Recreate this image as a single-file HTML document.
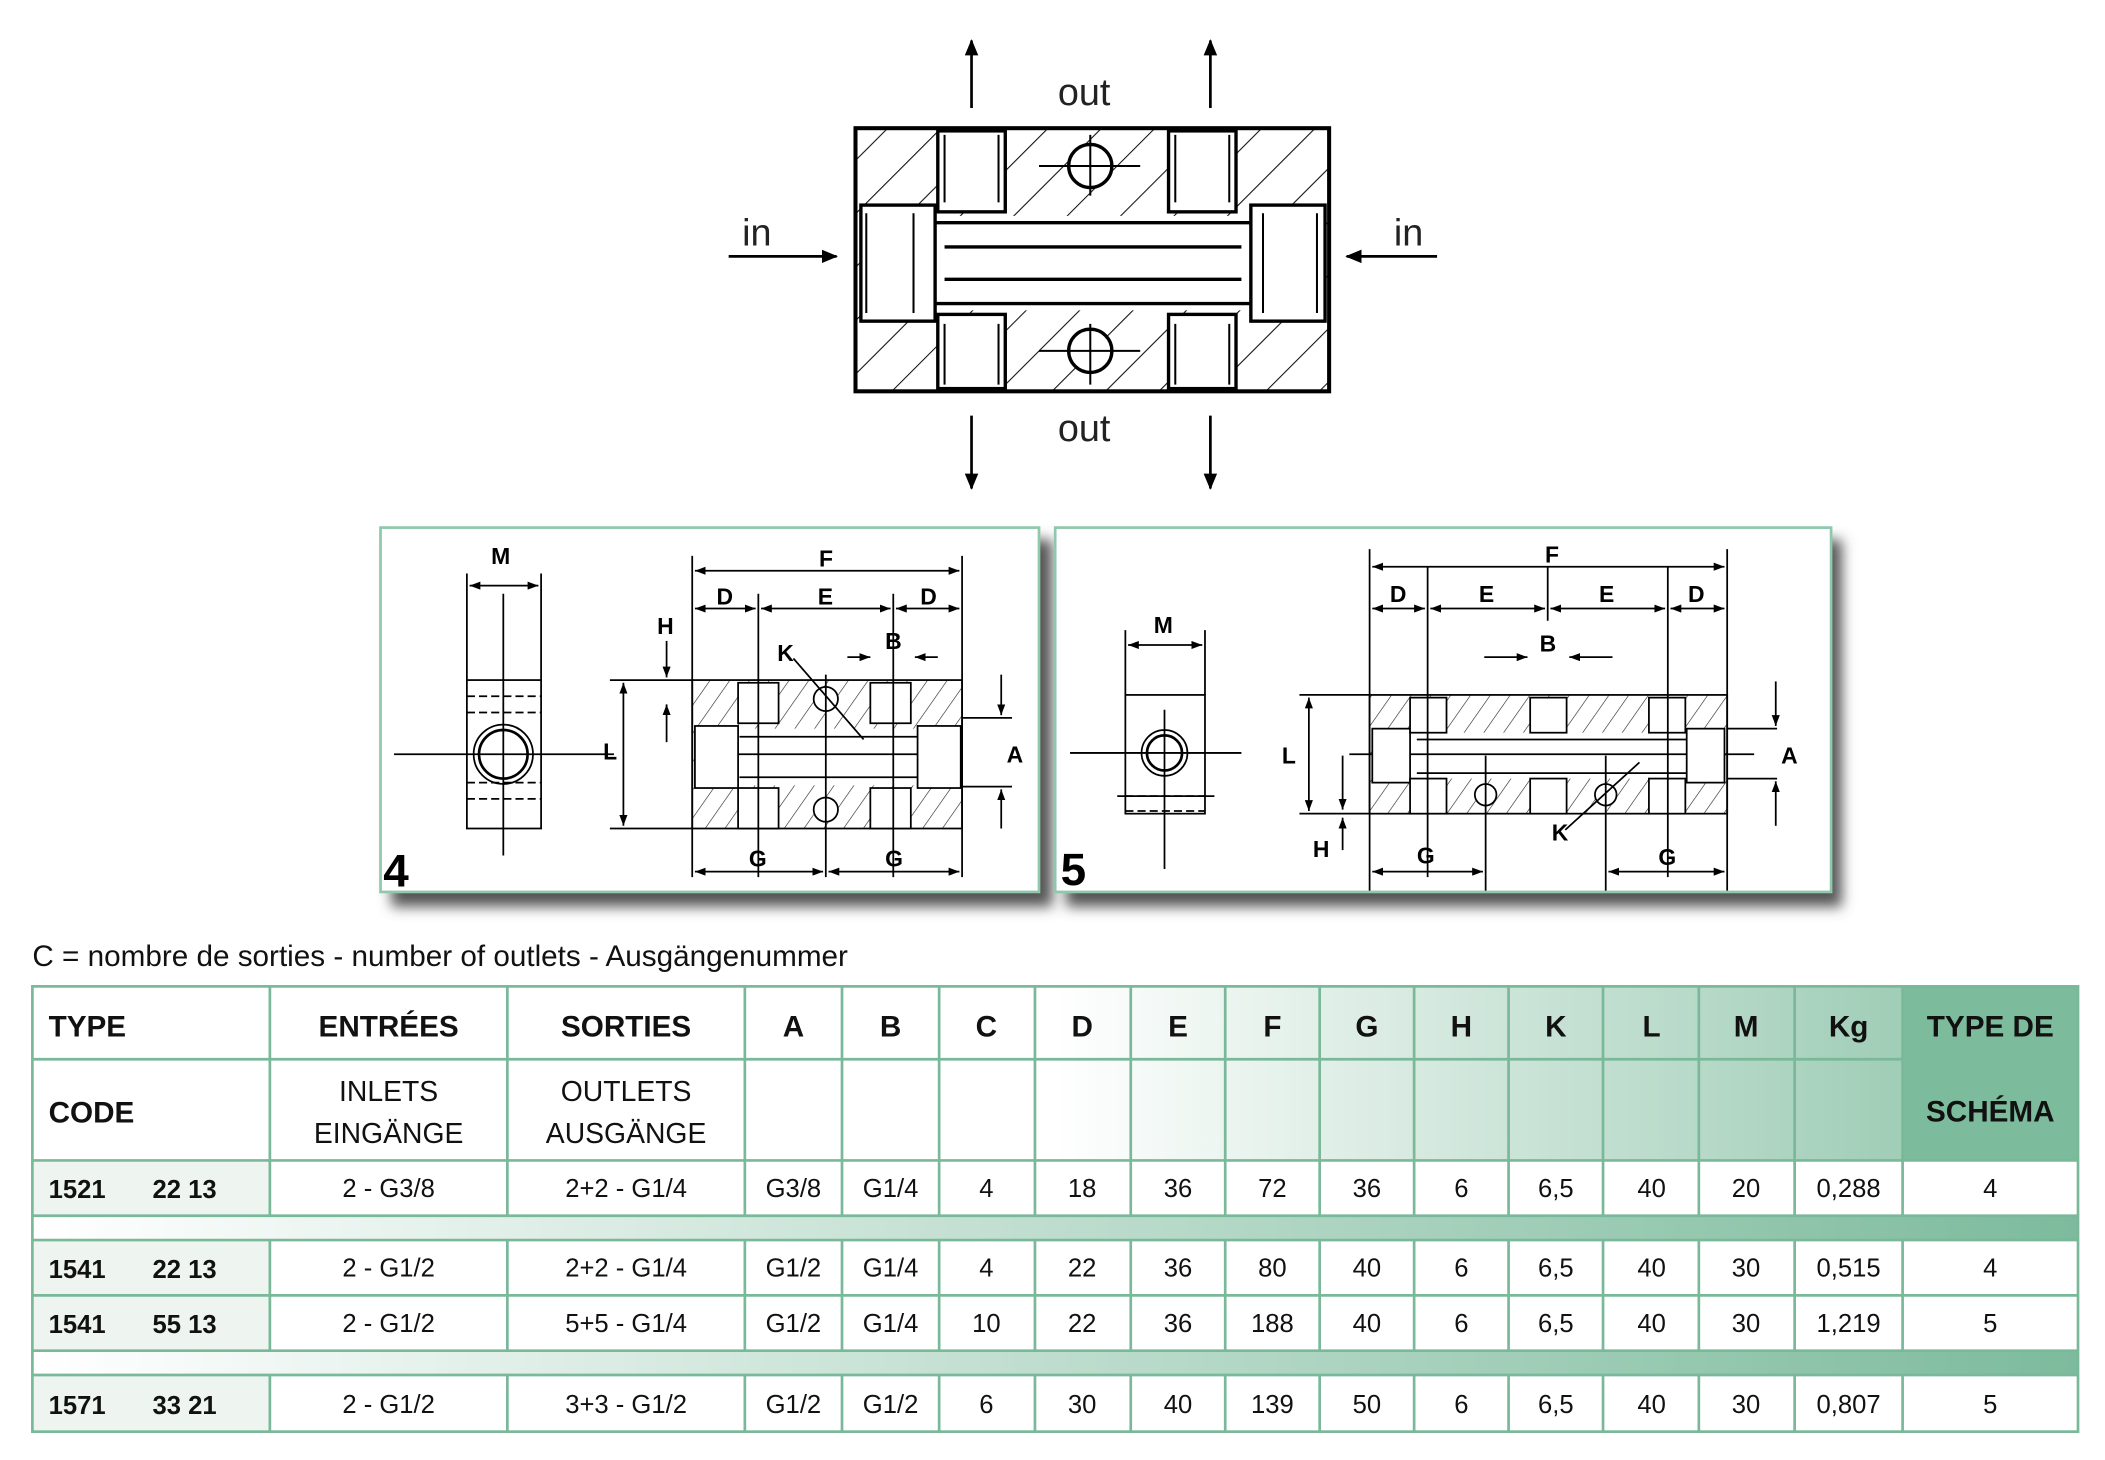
<!DOCTYPE html>
<html><head><meta charset="utf-8"><style>
html,body{margin:0;padding:0;background:#fff}
svg{display:block}
text{font-family:"Liberation Sans",sans-serif}
.b{font-family:"Liberation Sans",sans-serif;font-weight:bold}
</style></head><body>
<svg width="2105" height="1460" viewBox="0 0 1560 1082" xmlns="http://www.w3.org/2000/svg">
<defs>
<pattern id="h" width="28" height="28" patternUnits="userSpaceOnUse" patternTransform="rotate(45)"><line x1="0" y1="0" x2="0" y2="28" stroke="#111" stroke-width="1.6"/></pattern>
<pattern id="hs" width="12" height="12" patternUnits="userSpaceOnUse" patternTransform="rotate(35)"><line x1="0" y1="0" x2="0" y2="12" stroke="#222" stroke-width="0.9"/></pattern>
<linearGradient id="hg" x1="0" x2="1"><stop offset="0" stop-color="#fff"/><stop offset="0.5" stop-color="#fff"/><stop offset="1" stop-color="#8cc3a8"/></linearGradient>
<linearGradient id="bg" x1="0" x2="1"><stop offset="0" stop-color="#fff"/><stop offset="1" stop-color="#7dbb9d"/></linearGradient>
<filter id="sh" x="-5%" y="-5%" width="115%" height="125%"><feGaussianBlur stdDeviation="5"/></filter>
<marker id="ar" markerWidth="12" markerHeight="10" refX="11" refY="5" orient="auto" markerUnits="userSpaceOnUse"><path d="M0,0L12,5L0,10z" fill="#000"/></marker>
<marker id="as" markerWidth="8" markerHeight="6" refX="8" refY="3" orient="auto-start-reverse" markerUnits="userSpaceOnUse"><path d="M0,0L8,3L0,6z" fill="#000"/></marker>
</defs>

<!-- TOP DRAWING -->
<g stroke="#000" fill="none">
<rect x="634" y="95" width="351" height="195" fill="url(#h)" stroke-width="3"/>
<rect x="640" y="160" width="340" height="70" fill="#fff" stroke="none"/>
<path d="M690,165H930M690,225H930M700,183H920M700,207H920" stroke-width="2.5"/>
<rect x="638" y="152" width="55" height="86" fill="#fff" stroke-width="2.5"/>
<rect x="927" y="152" width="55" height="86" fill="#fff" stroke-width="2.5"/>
<rect x="695" y="97" width="50" height="60" fill="#fff" stroke-width="2.5"/>
<rect x="866" y="97" width="50" height="60" fill="#fff" stroke-width="2.5"/>
<rect x="695" y="233" width="50" height="55" fill="#fff" stroke-width="2.5"/>
<rect x="866" y="233" width="50" height="55" fill="#fff" stroke-width="2.5"/>
<path d="M700,100V150M740,100V150M871,100V150M911,100V150M700,240V285M740,240V285M871,240V285M911,240V285" stroke-width="1.5"/>
<path d="M642,158V232M677,158V232M936,158V232M976,158V232" stroke-width="1.5"/>
<circle cx="808" cy="123" r="16" fill="#fff" stroke-width="2.5"/>
<circle cx="808" cy="260" r="16" fill="#fff" stroke-width="2.5"/>
<path d="M770,123H845M770,260H845M808,100V145M808,240V285" stroke-width="1.5"/>
<path d="M720,80V30" stroke-width="2" marker-end="url(#ar)"/>
<path d="M897,80V30" stroke-width="2" marker-end="url(#ar)"/>
<path d="M720,308V362" stroke-width="2" marker-end="url(#ar)"/>
<path d="M897,308V362" stroke-width="2" marker-end="url(#ar)"/>
<path d="M540,190H620" stroke-width="2" marker-end="url(#ar)"/>
<path d="M1065,190H998" stroke-width="2" marker-end="url(#ar)"/>
</g>
<g font-size="28" fill="#222"><text x="784" y="78">out</text><text x="784" y="327">out</text><text x="550" y="182">in</text><text x="1033" y="182">in</text></g>

<!-- PANELS -->
<rect x="290" y="400" width="490" height="272" fill="#555" filter="url(#sh)"/>
<rect x="790" y="400" width="575" height="272" fill="#555" filter="url(#sh)"/>
<rect x="282" y="391" width="488" height="270" fill="#fff" stroke="#8fc8ac" stroke-width="2"/>
<rect x="782" y="391" width="575" height="270" fill="#fff" stroke="#8fc8ac" stroke-width="2"/>

<!-- panel 4 -->
<g stroke="#000" fill="none" stroke-width="1.3">
<rect x="346" y="504" width="55" height="110"/>
<path d="M346,516H401M346,528H401M346,580H401M346,592H401" stroke-dasharray="6,3"/>
<circle cx="373" cy="559" r="22"/><circle cx="373" cy="559" r="18" stroke-width="2"/>
<path d="M292,559H455M373,440V634M346,425V504M401,425V504"/>
<path d="M348,434H399" marker-start="url(#as)" marker-end="url(#as)"/>
<rect x="513" y="504" width="200" height="110" fill="url(#hs)"/>
<rect x="515" y="540" width="196" height="42" fill="#fff" stroke="none"/>
<path d="M548,546H680M548,576H680M520,559H690"/>
<rect x="515" y="538" width="32" height="46" fill="#fff"/><rect x="680" y="538" width="32" height="46" fill="#fff"/>
<rect x="547" y="506" width="30" height="30" fill="#fff"/><rect x="645" y="506" width="30" height="30" fill="#fff"/>
<rect x="547" y="584" width="30" height="30" fill="#fff"/><rect x="645" y="584" width="30" height="30" fill="#fff"/>
<circle cx="612" cy="518" r="9" fill="#fff"/><circle cx="612" cy="600" r="9" fill="#fff"/>
<path d="M452,504H513M452,614H513M513,412V650M713,412V650M562,440V650M662,440V650M612,500V650"/>
<path d="M515,423H711" marker-start="url(#as)" marker-end="url(#as)"/>
<path d="M515,451H560" marker-start="url(#as)" marker-end="url(#as)"/>
<path d="M564,451H660" marker-start="url(#as)" marker-end="url(#as)"/>
<path d="M664,451H711" marker-start="url(#as)" marker-end="url(#as)"/>
<path d="M462,506V612" marker-start="url(#as)" marker-end="url(#as)"/>
<path d="M494,475V502" marker-end="url(#as)"/><path d="M494,550V522" marker-end="url(#as)"/>
<path d="M628,487H645" marker-end="url(#as)"/><path d="M695,487H678" marker-end="url(#as)"/>
<path d="M713,532H750M713,583H750"/>
<path d="M742,500V530" marker-end="url(#as)"/><path d="M742,614V585" marker-end="url(#as)"/>
<path d="M588,488L640,548"/>
<path d="M515,646H610" marker-start="url(#as)" marker-end="url(#as)"/>
<path d="M614,646H711" marker-start="url(#as)" marker-end="url(#as)"/>
</g>
<g font-size="17" class="b"><text x="364" y="418">M</text><text x="607" y="420">F</text><text x="531" y="448">D</text><text x="606" y="448">E</text><text x="682" y="448">D</text><text x="487" y="470">H</text><text x="576" y="490">K</text><text x="656" y="481">B</text><text x="447" y="563">L</text><text x="746" y="565">A</text><text x="555" y="642">G</text><text x="656" y="642">G</text></g>
<text x="284" y="657" font-size="34" class="b">4</text>

<!-- panel 5 -->
<g stroke="#000" fill="none" stroke-width="1.3">
<rect x="834" y="515" width="59" height="88"/>
<path d="M834,590H893M834,601H893" stroke-dasharray="6,3"/>
<circle cx="863" cy="558" r="17"/><circle cx="863" cy="558" r="13" stroke-width="2"/>
<path d="M793,558H920M863,526V644M834,467V515M893,467V515M828,590H900"/>
<path d="M836,478H891" marker-start="url(#as)" marker-end="url(#as)"/>
<rect x="1015" y="515" width="265" height="88" fill="url(#hs)"/>
<rect x="1017" y="543" width="261" height="34" fill="#fff" stroke="none"/>
<path d="M1050,548H1250M1050,573H1250M1000,559H1300"/>
<rect x="1017" y="540" width="28" height="40" fill="#fff"/><rect x="1250" y="540" width="28" height="40" fill="#fff"/>
<rect x="1045" y="517" width="27" height="26" fill="#fff"/><rect x="1134" y="517" width="27" height="26" fill="#fff"/><rect x="1222" y="517" width="27" height="26" fill="#fff"/>
<rect x="1045" y="577" width="27" height="26" fill="#fff"/><rect x="1134" y="577" width="27" height="26" fill="#fff"/><rect x="1222" y="577" width="27" height="26" fill="#fff"/>
<circle cx="1101" cy="589" r="8" fill="#fff"/><circle cx="1190" cy="589" r="8" fill="#fff"/>
<path d="M1015,407V660M1280,407V660M1058,420V650M1147,420V460M1236,420V650M1101,560V660M1190,560V660M963,515H1015M963,603H1015M1280,540H1317M1280,577H1317"/>
<path d="M1017,420H1278" marker-start="url(#as)" marker-end="url(#as)"/>
<path d="M1017,451H1056" marker-start="url(#as)" marker-end="url(#as)"/>
<path d="M1060,451H1145" marker-start="url(#as)" marker-end="url(#as)"/>
<path d="M1149,451H1234" marker-start="url(#as)" marker-end="url(#as)"/>
<path d="M1238,451H1278" marker-start="url(#as)" marker-end="url(#as)"/>
<path d="M970,517V601" marker-start="url(#as)" marker-end="url(#as)"/>
<path d="M995,560V600" marker-end="url(#as)"/><path d="M995,630V606" marker-end="url(#as)"/>
<path d="M1100,487H1132" marker-end="url(#as)"/><path d="M1195,487H1163" marker-end="url(#as)"/>
<path d="M1316,505V538" marker-end="url(#as)"/><path d="M1316,612V579" marker-end="url(#as)"/>
<path d="M1160,615L1215,565"/>
<path d="M1017,646H1099" marker-start="url(#as)" marker-end="url(#as)"/>
<path d="M1192,646H1278" marker-start="url(#as)" marker-end="url(#as)"/>
</g>
<g font-size="17" class="b"><text x="855" y="469">M</text><text x="1145" y="417">F</text><text x="1030" y="446">D</text><text x="1096" y="446">E</text><text x="1185" y="446">E</text><text x="1251" y="446">D</text><text x="1141" y="483">B</text><text x="950" y="566">L</text><text x="1320" y="566">A</text><text x="973" y="635">H</text><text x="1150" y="623">K</text><text x="1050" y="640">G</text><text x="1229" y="641">G</text></g>
<text x="786" y="656" font-size="34" class="b">5</text>

<text x="24" y="716" font-size="22" fill="#111">C = nombre de sorties - number of outlets - Ausgängenummer</text>

<!-- TABLE -->
<rect x="24" y="731" width="1516" height="129" fill="url(#hg)"/>
<rect x="1410" y="731" width="130" height="129" fill="#7dbb9d"/>
<rect x="24" y="860" width="176" height="41" fill="#eef5f0"/>
<rect x="24" y="919" width="176" height="82" fill="#eef5f0"/>
<rect x="24" y="1019" width="176" height="42" fill="#eef5f0"/>
<rect x="24" y="901" width="1516" height="18" fill="url(#bg)"/>
<rect x="24" y="1001" width="1516" height="18" fill="url(#bg)"/>
<g stroke="#7ab89a" stroke-width="2" fill="none">
<rect x="24" y="731" width="1516" height="330"/>
<path d="M24,785H1410M24,860H1540M24,901H1540M24,919H1540M24,960H1540M24,1001H1540M24,1019H1540"/>
<path d="M200,731V901M376,731V901M552,731V901M624,731V901M696,731V901M767,731V901M838,731V901M908,731V901M978,731V901M1048,731V901M1118,731V901M1188,731V901M1259,731V901M1330,731V901M1410,731V901"/>
<path d="M200,919V1001M376,919V1001M552,919V1001M624,919V1001M696,919V1001M767,919V1001M838,919V1001M908,919V1001M978,919V1001M1048,919V1001M1118,919V1001M1188,919V1001M1259,919V1001M1330,919V1001M1410,919V1001"/>
<path d="M200,1019V1061M376,1019V1061M552,1019V1061M624,1019V1061M696,1019V1061M767,1019V1061M838,1019V1061M908,1019V1061M978,1019V1061M1048,1019V1061M1118,1019V1061M1188,1019V1061M1259,1019V1061M1330,1019V1061M1410,1019V1061"/>
</g>
<g class="b" font-size="22" fill="#111">
<text x="36" y="768">TYPE</text><text x="36" y="832">CODE</text>
<g text-anchor="middle"><text x="288" y="768">ENTRÉES</text><text x="464" y="768">SORTIES</text><text x="588" y="768">A</text><text x="660" y="768">B</text><text x="731" y="768">C</text><text x="802" y="768">D</text><text x="873" y="768">E</text><text x="943" y="768">F</text><text x="1013" y="768">G</text><text x="1083" y="768">H</text><text x="1153" y="768">K</text><text x="1224" y="768">L</text><text x="1294" y="768">M</text><text x="1370" y="768">Kg</text><text x="1475" y="768">TYPE DE</text><text x="1475" y="831">SCHÉMA</text></g>
</g>
<g font-size="21" fill="#111" text-anchor="middle"><text x="288" y="816">INLETS</text><text x="288" y="847">EINGÄNGE</text><text x="464" y="816">OUTLETS</text><text x="464" y="847">AUSGÄNGE</text></g>
<g font-size="19" fill="#111" class="b">
<text x="36" y="888">1521</text><text x="113" y="888">22 13</text>
<text x="36" y="947">1541</text><text x="113" y="947">22 13</text>
<text x="36" y="988">1541</text><text x="113" y="988">55 13</text>
<text x="36" y="1048">1571</text><text x="113" y="1048">33 21</text></g>
<g font-size="19" fill="#111" text-anchor="middle">
<g transform="translate(0,887)"><text x="288">2 - G3/8</text><text x="464">2+2 - G1/4</text><text x="588">G3/8</text><text x="660">G1/4</text><text x="731">4</text><text x="802">18</text><text x="873">36</text><text x="943">72</text><text x="1013">36</text><text x="1083">6</text><text x="1153">6,5</text><text x="1224">40</text><text x="1294">20</text><text x="1370">0,288</text><text x="1475">4</text></g>
<g transform="translate(0,946)"><text x="288">2 - G1/2</text><text x="464">2+2 - G1/4</text><text x="588">G1/2</text><text x="660">G1/4</text><text x="731">4</text><text x="802">22</text><text x="873">36</text><text x="943">80</text><text x="1013">40</text><text x="1083">6</text><text x="1153">6,5</text><text x="1224">40</text><text x="1294">30</text><text x="1370">0,515</text><text x="1475">4</text></g>
<g transform="translate(0,987)"><text x="288">2 - G1/2</text><text x="464">5+5 - G1/4</text><text x="588">G1/2</text><text x="660">G1/4</text><text x="731">10</text><text x="802">22</text><text x="873">36</text><text x="943">188</text><text x="1013">40</text><text x="1083">6</text><text x="1153">6,5</text><text x="1224">40</text><text x="1294">30</text><text x="1370">1,219</text><text x="1475">5</text></g>
<g transform="translate(0,1047)"><text x="288">2 - G1/2</text><text x="464">3+3 - G1/2</text><text x="588">G1/2</text><text x="660">G1/2</text><text x="731">6</text><text x="802">30</text><text x="873">40</text><text x="943">139</text><text x="1013">50</text><text x="1083">6</text><text x="1153">6,5</text><text x="1224">40</text><text x="1294">30</text><text x="1370">0,807</text><text x="1475">5</text></g>
</g>
</svg>
</body></html>
